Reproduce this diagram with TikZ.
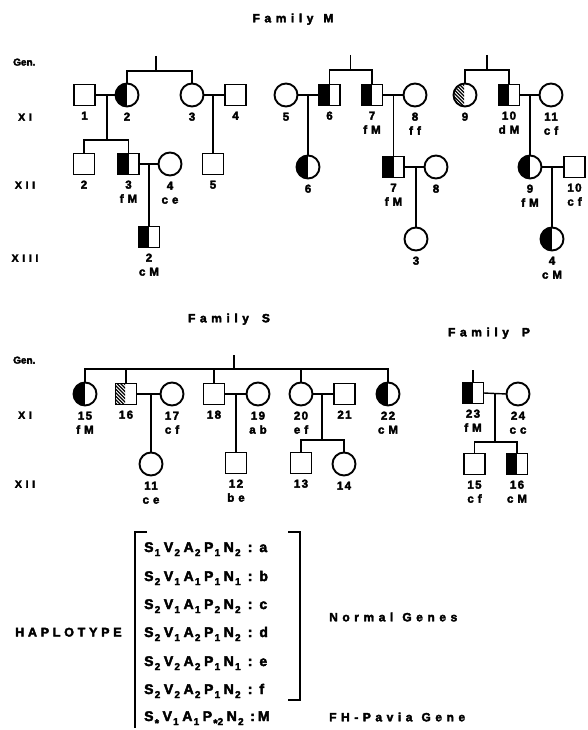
\documentclass[tikz,border=0pt]{standalone}
\usepackage{fontspec}
\setmainfont{Liberation Sans}
\newfontfamily\fNum{Liberation Sans Bold}[LetterSpace=12, FakeBold=3]
\newfontfamily\fGt{Liberation Sans Bold}[LetterSpace=35, FakeBold=3]
\newfontfamily\fTitle{Liberation Sans Bold}[LetterSpace=38, FakeBold=3]
\newfontfamily\fHap{Liberation Sans Bold}[LetterSpace=30, FakeBold=3]
\newfontfamily\fRow{Liberation Sans Bold}[FakeBold=3]
\newfontfamily\fGen{Liberation Sans Bold}[FakeBold=3]
\usetikzlibrary{calc}
\newcommand\hs[1]{\kern1.2pt\raisebox{-0.55ex}{\fontsize{10}{10}\selectfont #1}\kern3.6pt}
\newcommand\hst[1]{\kern1.2pt\raisebox{-0.8ex}{\fontsize{11}{11}\selectfont *}\raisebox{-0.55ex}{\fontsize{10}{10}\selectfont #1}\kern3.6pt}
\tikzset{
  ind/.style={draw, line width=1.9pt, inner sep=0pt, outer sep=0pt},
  male/.style={ind, rectangle, minimum size=21pt},
  female/.style={ind, circle, minimum size=23pt},
  half/.style={path picture={\fill (path picture bounding box.south west) rectangle (path picture bounding box.north);}},
  hatch/.style={path picture={
    \begin{scope}
    \clip ([xshift=-1pt]path picture bounding box.south west) rectangle ([xshift=-1pt]path picture bounding box.north);
    \foreach \k in {-30,-26.5,...,30} \draw[line width=1.2pt] ([xshift=\k pt-14pt, yshift=14pt]path picture bounding box.center) -- ([xshift=\k pt+14pt, yshift=-14pt]path picture bounding box.center);
    \end{scope}}},
  ln/.style={line width=1.4pt},
  numl/.style={font=\fNum\fontsize{11.5}{12}\selectfont, inner sep=0pt, text height=8.3pt, text depth=0pt},
  gtl/.style={font=\fGt\fontsize{11.5}{12}\selectfont, inner sep=0pt, text height=8.3pt, text depth=0pt},
  genl/.style={font=\fGen\fontsize{10}{12}\selectfont, inner sep=0pt, text height=7.2pt, text depth=0pt},
  roml/.style={font=\fGt\fontsize{10.5}{12}\selectfont, inner sep=0pt, text height=7.5pt, text depth=0pt},
  title/.style={font=\fTitle\fontsize{12}{12}\selectfont, inner sep=0pt, text height=8.6pt, text depth=0pt},
  hap/.style={font=\fHap\fontsize{12.5}{12.5}\selectfont, inner sep=0pt, text height=9pt, text depth=0pt},
  row/.style={font=\fRow\fontsize{14}{14}\selectfont, inner sep=0pt, anchor=west, text height=10pt, text depth=0pt},
}
\newcommand\lb[2]{\node[numl] at ([yshift=-10pt]#1.south) {#2};}
\newcommand\lbb[3]{\node[numl] at ([yshift=-10pt]#1.south) {#2};\node[gtl] at ([yshift=-24pt]#1.south) {#3};}
\begin{document}
\begin{tikzpicture}[x=1pt,y=-1pt]
\useasboundingbox (0,0) rectangle (587,730);
% ================= Family M =================
\node[title] (tM) at (293,18) {Family\kern10pt M};
\node[genl, anchor=west] (genM) at (13,62) {Gen.};
\node[roml] (gXI) at (25,117) {XI};
\node[roml] (gXII) at (25,185) {XII};
\node[roml] (gXIII) at (25,258) {XIII};
% group 1
\node[male] (m1) at (84.5,95) {};
\node[female, half] (m2) at (127,95) {};
\node[female] (m3) at (192,95) {};
\node[male] (m4) at (235.5,95) {};
\node[male] (c2) at (84,164) {};
\node[male, half] (c3) at (128.5,164) {};
\node[female] (c4) at (170,164) {};
\node[male] (c5) at (213,164) {};
\node[male, half] (d2) at (149,237) {};
\coordinate (t1) at (156,56);
\coordinate (b1) at (156,71);
\coordinate (mm12) at (107,95);
\coordinate (s12) at (107,140);
\coordinate (mm34) at (213,95);
\coordinate (mc34) at (149,164);
\draw[ln] (t1) -- (b1);
\draw[ln] (m2.north) |- (b1) -| (m3.north);
\draw[ln] (m1.east) -- (m2.west);
\draw[ln] (m3.east) -- (m4.west);
\draw[ln] (mm12) -- (s12);
\draw[ln] (c2.north) |- (s12) -| (c3.north);
\draw[ln] (mm34) -- (c5.north);
\draw[ln] (c3.east) -- (c4.west);
\draw[ln] (mc34) -- (d2.north);
\lb{m1}{1}\lb{m2}{2}\lb{m3}{3}\lb{m4}{4}
\lb{c2}{2}\lbb{c3}{3}{fM}\lbb{c4}{4}{ce}\lb{c5}{5}
\lbb{d2}{2}{cM}
% group 2
\node[female] (m5) at (286,95) {};
\node[male, half] (m6) at (329.5,95) {};
\node[male, half] (m7) at (372,95) {};
\node[female] (m8) at (415,95) {};
\node[female, half] (c6) at (308,167) {};
\node[male, half] (c7) at (393.5,167) {};
\node[female] (c8) at (436,167) {};
\node[female] (d3) at (416,239) {};
\coordinate (t2) at (350.5,55);
\coordinate (b2) at (350.5,70);
\coordinate (mm56) at (308,95);
\coordinate (mm78) at (393.5,95);
\coordinate (mc78) at (416,167);
\draw[ln] (t2) -- (b2);
\draw[ln] (m6.north) |- (b2) -| (m7.north);
\draw[ln] (m5.east) -- (m6.west);
\draw[ln] (m7.east) -- (m8.west);
\draw[ln] (mm56) -- (c6.north);
\draw[ln] (mm78) -- (c7.north);
\draw[ln] (c7.east) -- (c8.west);
\draw[ln] (mc78) -- (d3.north);
\lb{m5}{5}\lb{m6}{6}\lbb{m7}{7}{fM}\lbb{m8}{8}{ff}
\lb{c6}{6}\lbb{c7}{7}{fM}\lb{c8}{8}
\lb{d3}{3}
% group 3
\node[female, hatch] (m9) at (465,95) {};
\node[male, half] (m10) at (509,95) {};
\node[female] (m11) at (551,95) {};
\node[female, half] (c9) at (530,167) {};
\node[male] (c10) at (574.5,167) {};
\node[female, half] (d4) at (552,239) {};
\coordinate (t3) at (487,55);
\coordinate (b3) at (487,70);
\coordinate (mm1011) at (530,95);
\coordinate (mc910) at (552,167);
\draw[ln] (t3) -- (b3);
\draw[ln] (m9.north) |- (b3) -| (m10.north);
\draw[ln] (m10.east) -- (m11.west);
\draw[ln] (mm1011) -- (c9.north);
\draw[ln] (c9.east) -- (c10.west);
\draw[ln] (mc910) -- (d4.north);
\lb{m9}{9}\lbb{m10}{10}{dM}\lbb{m11}{11}{cf}
\lbb{c9}{9}{fM}\lbb{c10}{10}{cf}
\lbb{d4}{4}{cM}
% ================= Family S =================
\node[title] (tS) at (229,318) {Family\kern13pt S};
\node[genl, anchor=west] (genS) at (13,360) {Gen.};
\node[roml] (sXI) at (25,415) {XI};
\node[roml] (sXII) at (25,484) {XII};
\node[female, half] (s15) at (85,394) {};
\node[male, hatch] (s16) at (126,394) {};
\node[female] (s17) at (172,394) {};
\node[male] (s18) at (214,394) {};
\node[female] (s19) at (258,394) {};
\node[female] (s20) at (301,394) {};
\node[male] (s21) at (344.5,394) {};
\node[female, half] (s22) at (388,394) {};
\node[female] (s11) at (151,464) {};
\node[male] (s12) at (236,463) {};
\node[male] (s13) at (301,463) {};
\node[female] (s14) at (344,464) {};
\coordinate (tS1) at (234,355);
\coordinate (bS) at (234,369);
\coordinate (mm1617) at (151,394);
\coordinate (mm1819) at (236,394);
\coordinate (mm2021) at (322,394);
\coordinate (sb2021) at (322,440);
\draw[ln] (tS1) -- (bS);
\draw[ln] (s15.north) |- (bS) -| (s22.north);
\draw[ln] (s16.north) -- (s16.north |- bS);
\draw[ln] (s18.north) -- (s18.north |- bS);
\draw[ln] (s20.north) -- (s20.north |- bS);
\draw[ln] (s16.east) -- (s17.west);
\draw[ln] (s18.east) -- (s19.west);
\draw[ln] (s20.east) -- (s21.west);
\draw[ln] (mm1617) -- (s11.north);
\draw[ln] (mm1819) -- (s12.north);
\draw[ln] (mm2021) -- (sb2021);
\draw[ln] (s13.north) |- (sb2021) -| (s14.north);
\lbb{s15}{15}{fM}\lb{s16}{16}\lbb{s17}{17}{cf}\lb{s18}{18}\lbb{s19}{19}{ab}
\lbb{s20}{20}{ef}\lb{s21}{21}\lbb{s22}{22}{cM}
\lbb{s11}{11}{ce}\lbb{s12}{12}{be}\lb{s13}{13}\lb{s14}{14}
% ================= Family P =================
\node[title] (tP) at (489,332) {Family\kern13pt P};
\node[male, half] (p23) at (473,393) {};
\node[female] (p24) at (518,394) {};
\node[male] (p15) at (474.5,464) {};
\node[male, half] (p16) at (517,464) {};
\coordinate (tP1) at (473,370);
\coordinate (mm2324) at (495,394);
\coordinate (pb) at (495,442);
\draw[ln] (tP1) -- (p23.north);
\draw[ln] (p23.east) -- (p24.west);
\draw[ln] (mm2324) -- (pb);
\draw[ln] (p15.north) |- (pb) -| (p16.north);
\lbb{p23}{23}{fM}\lbb{p24}{24}{cc}\lbb{p15}{15}{cf}\lbb{p16}{16}{cM}
% ================= Haplotypes =================
\node[hap, anchor=west] (hap) at (15,632) {HAPLOTYPE};
\coordinate (lbt) at (135,532);
\coordinate (lbb) at (135,728);
\coordinate (lbtk) at (147,532);
\draw[line width=1.6pt] (lbtk) -- (lbt) -- (lbb);
\coordinate (rbt) at (300,532);
\coordinate (rbb) at (300,700);
\coordinate (rbtk) at (288,532);
\coordinate (rbbk) at (288,700);
\draw[line width=1.6pt] (rbtk) -- (rbt) -- (rbb) -- (rbbk);
\node[row] (r1) at (144,547) {S\hs{1}V\hs{2}A\hs{2}P\hs{1}N\hs{2}\kern3.5pt:\kern7pt a};
\node[row] (r2) at (144,576) {S\hs{2}V\hs{1}A\hs{1}P\hs{1}N\hs{1}\kern3.5pt:\kern7pt b};
\node[row] (r3) at (144,604) {S\hs{2}V\hs{1}A\hs{1}P\hs{2}N\hs{2}\kern3.5pt:\kern7pt c};
\node[row] (r4) at (144,632) {S\hs{2}V\hs{1}A\hs{2}P\hs{1}N\hs{2}\kern3.5pt:\kern7pt d};
\node[row] (r5) at (144,661) {S\hs{2}V\hs{2}A\hs{2}P\hs{1}N\hs{1}\kern3.5pt:\kern7pt e};
\node[row] (r6) at (144,689) {S\hs{2}V\hs{2}A\hs{2}P\hs{1}N\hs{2}\kern3.5pt:\kern7pt f};
\node[row] (r7) at (144,716) {S\hst{}V\hs{1}A\hs{1}P\hst{2}N\hs{2}\kern3pt:\kern3pt M};
\node[title, anchor=west] (ng) at (329,617) {Normal\kern9pt Genes};
\node[title, anchor=west] (fh) at (329,717) {FH-Pavia\kern9pt Gene};
\end{tikzpicture}
\end{document}
